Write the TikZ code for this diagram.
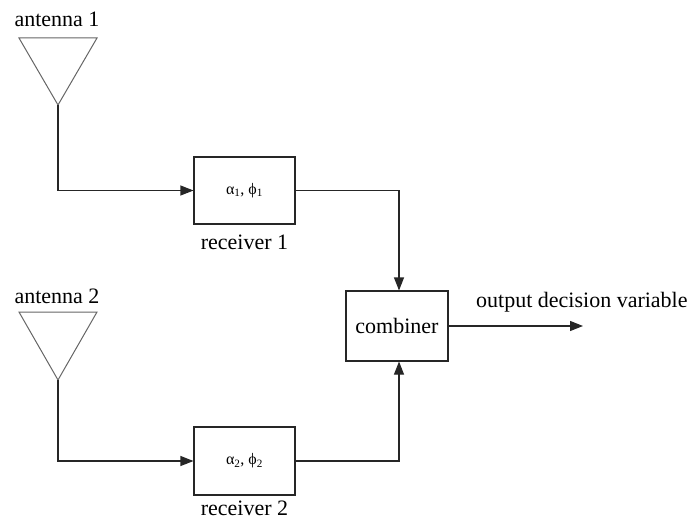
\documentclass[tikz,border=0pt]{standalone}
\usepackage{fontspec}
\setmainfont{Liberation Serif}
\usetikzlibrary{arrows.meta}
\begin{document}
\begin{tikzpicture}[x=1pt,y=-1pt,
  blk/.style={draw=black!85,line width=1.1pt,inner sep=0pt,minimum width=101pt},
  lbl/.style={inner sep=0pt,font=\fontsize{22}{26}\selectfont},
  sym/.style={inner sep=0pt,font=\fontsize{16}{18}\selectfont},
  ant/.style={draw=black!60,line width=1pt},
  wire/.style={draw=black!85,line width=1.1pt},
  arr/.style={wire,-{Triangle[length=13pt,width=10pt]}}]
\useasboundingbox (0,0) rectangle (695,519);
% antenna 1
\node[lbl] (la1) at (57,19) {antenna 1};
\coordinate (a1l) at (19,38);
\coordinate (a1r) at (97,38);
\coordinate (a1) at (58,105);
\draw[ant] (a1l) -- (a1r) -- (a1) -- cycle;
% antenna 2
\node[lbl] (la2) at (57,296) {antenna 2};
\coordinate (a2l) at (19,312);
\coordinate (a2r) at (97,312);
\coordinate (a2) at (58,380);
\draw[ant] (a2l) -- (a2r) -- (a2) -- cycle;
% receivers
\node[blk,minimum height=67pt] (r1) at (244.5,190.5) {};
\node[sym] (s1) at (r1.center) {α\textsubscript{1}, ϕ\textsubscript{1}};
\node[lbl] (lr1) at (244.5,242) {receiver 1};
\node[blk,minimum height=68pt] (r2) at (244.5,461) {};
\node[sym] (s2) at (r2.center) {α\textsubscript{2}, ϕ\textsubscript{2}};
\node[lbl] (lr2) at (244.5,508) {receiver 2};
% combiner
\node[blk,minimum height=70pt,minimum width=102pt] (c) at (397,326) {};
\node[lbl] (lc) at (c.center) {combiner};
\coordinate (out) at (583,326);
\node[lbl,anchor=west] (lo) at (476,302) {output decision variable};
% wires
\draw[arr] (a1) |- (r1.west);
\draw[arr] (a2) |- (r2.west);
\draw[arr] (r1.east) -| ([xshift=2pt]c.north);
\draw[arr] (r2.east) -| ([xshift=2pt]c.south);
\draw[arr] (c.east) -- (out);
\end{tikzpicture}
\end{document}
